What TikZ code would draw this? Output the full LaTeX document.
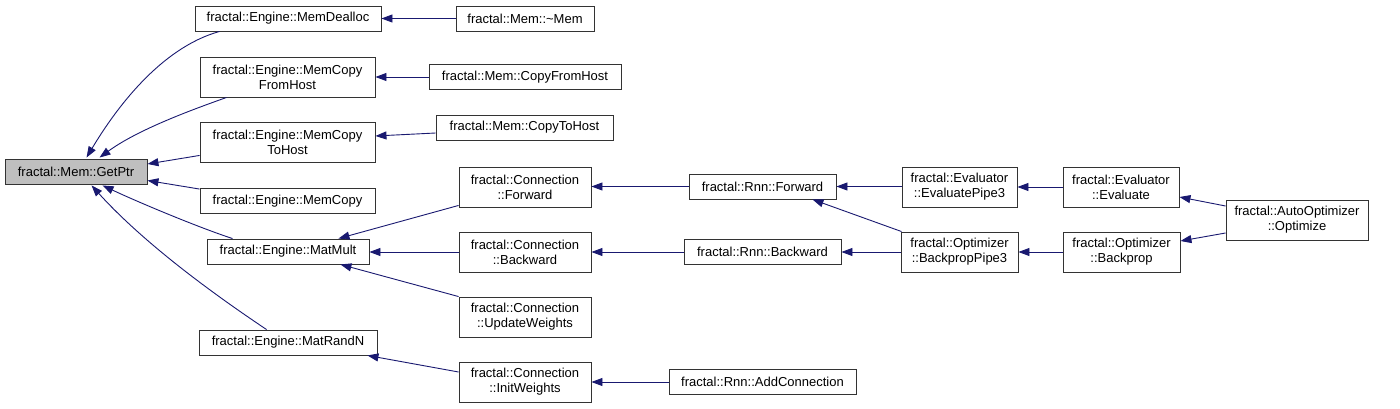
\documentclass[tikz,border=0pt]{standalone}
\usepackage{fontspec}
\setmainfont{Liberation Sans}
\usetikzlibrary{arrows.meta,calc}
\definecolor{edgeblue}{HTML}{191970}
\definecolor{boxgray}{HTML}{BFBFBF}
\tikzset{
  fn/.style={draw=black!80, line width=0.9pt, fill=white, inner sep=0pt, align=center,
    font=\fontsize{13}{15}\selectfont, minimum height=25pt},
  fn2/.style={fn, minimum height=40pt},
  edge/.style={draw=edgeblue, line width=0.9pt, -{Triangle[length=11pt,width=8pt]}},
}
\begin{document}
\begin{tikzpicture}[x=1pt,y=-1pt]
\useasboundingbox (0,0) rectangle (1400,409);
% column 0
\node[fn, fill=boxgray, minimum width=142pt] (getptr) at (76,171.5) {fractal::Mem::GetPtr};
% column 1
\node[fn, minimum width=186pt] (memdealloc) at (288,18.5) {fractal::Engine::MemDealloc};
\node[fn2, minimum width=175pt] (memcopyfrom) at (287.5,77) {fractal::Engine::MemCopy\\FromHost};
\node[fn2, minimum width=175pt] (memcopyto) at (287.5,142) {fractal::Engine::MemCopy\\ToHost};
\node[fn, minimum width=175pt] (memcopy) at (287.5,201) {fractal::Engine::MemCopy};
\node[fn, minimum width=162pt] (matmult) at (288,251.5) {fractal::Engine::MatMult};
\node[fn, minimum width=178pt] (matrandn) at (288,342.5) {fractal::Engine::MatRandN};
% column 2
\node[fn, minimum width=138pt] (memdtor) at (525,18.5) {fractal::Mem::\textasciitilde Mem};
\node[fn, minimum width=192pt] (mcopyfrom) at (525,77) {fractal::Mem::CopyFromHost};
\node[fn, minimum width=177pt] (mcopyto) at (524.5,127.5) {fractal::Mem::CopyToHost};
\node[fn2, minimum width=132pt] (cfwd) at (525,187) {fractal::Connection\\::Forward};
\node[fn2, minimum width=132pt] (cbwd) at (525,252) {fractal::Connection\\::Backward};
\node[fn2, minimum width=132pt] (cupd) at (525,317) {fractal::Connection\\::UpdateWeights};
\node[fn2, minimum width=132pt] (cinit) at (525,382) {fractal::Connection\\::InitWeights};
% column 3
\node[fn, minimum width=147pt] (rfwd) at (762.5,186.5) {fractal::Rnn::Forward};
\node[fn, minimum width=157pt] (rbwd) at (762.5,252) {fractal::Rnn::Backward};
\node[fn, minimum width=187pt] (radd) at (762.5,382) {fractal::Rnn::AddConnection};
% column 4
\node[fn2, minimum width=115pt] (evp3) at (959.5,187) {fractal::Evaluator\\::EvaluatePipe3};
\node[fn2, minimum width=117pt] (bpp3) at (959.5,252) {fractal::Optimizer\\::BackpropPipe3};
% column 5
\node[fn2, minimum width=116pt] (eval) at (1121,187) {fractal::Evaluator\\::Evaluate};
\node[fn2, minimum width=117pt] (bprop) at (1121.5,252) {fractal::Optimizer\\::Backprop};
% column 6
\node[fn2, minimum width=142pt] (opt) at (1297,220) {fractal::AutoOptimizer\\::Optimize};

% edges into GetPtr
\draw[edge] ($(memdealloc.south west)+(25,0)$) .. controls (160,48) and (115,110) .. ($(getptr.north west)+(82,-1)$);
\draw[edge] ($(memcopyfrom.south west)+(27,0)$) .. controls (200,107) and (140,128) .. ($(getptr.north west)+(95,-1)$);
\draw[edge] ($(memcopyto.south west)+(0,-7)$) -- ($(getptr.east)+(0,-7.5)$);
\draw[edge] ($(memcopy.north west)+(0,1)$) -- ($(getptr.east)+(0,9)$);
\draw[edge] ($(matmult.north west)+(26,0)$) .. controls (200,228) and (140,203) .. ($(getptr.south west)+(98,1)$);
\draw[edge] ($(matrandn.north west)+(68,0)$) .. controls (230,305) and (150,250) .. ($(getptr.south west)+(87,1)$);
% column 2 -> column 1
\draw[edge] (memdtor.west) -- (memdealloc.east);
\draw[edge] (mcopyfrom.west) -- (memcopyfrom.east);
\draw[edge] ($(mcopyto.west)+(0,5.5)$) -- ($(memcopyto.east)+(0,-6)$);
\draw[edge] ($(cfwd.south west)+(0,-2)$) -- ($(matmult.north east)+(-31,0)$);
\draw[edge] (cbwd.west) -- (cbwd.west -| matmult.east);
\draw[edge] (cupd.north west) -- ($(matmult.south east)+(-29,0)$);
\draw[edge] ($(cinit.west)+(0,-10)$) -- ($(matrandn.south east)+(-10,0)$);
% column 3 -> column 2
\draw[edge] (rfwd.west) -- (rfwd.west -| cfwd.east);
\draw[edge] (rbwd.west) -- (cbwd.east);
\draw[edge] (radd.west) -- (cinit.east);
% column 4 -> column 3
\draw[edge] (evp3.west |- rfwd.west) -- (rfwd.east);
\draw[edge] ($(bpp3.north west)+(1,0)$) -- ($(rfwd.south east)+(-24,0)$);
\draw[edge] (bpp3.west) -- (rbwd.east);
% column 5 -> column 4
\draw[edge] (eval.west) -- (evp3.east);
\draw[edge] (bprop.west) -- (bpp3.east);
% column 6 -> column 5
\draw[edge] ($(opt.west)+(0,-14)$) -- ($(eval.east)+(0,10)$);
\draw[edge] ($(opt.west)+(0,13)$) -- ($(bprop.east)+(0,-11)$);
\end{tikzpicture}
\end{document}
